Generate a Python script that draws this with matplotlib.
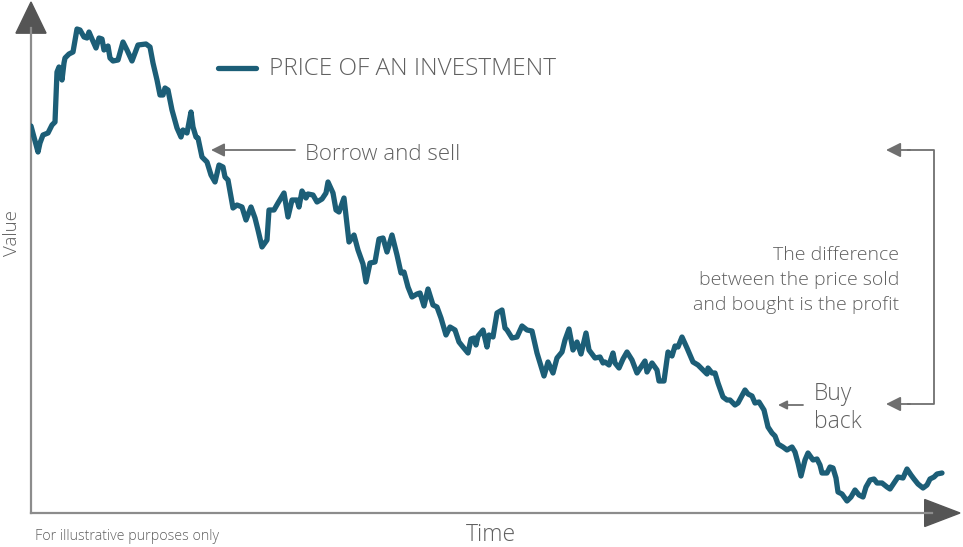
import matplotlib
matplotlib.use('Agg')
import matplotlib.pyplot as plt
from matplotlib.patches import Polygon

# price path (time step, value)
days = [0, 7, 9, 12, 17, 21, 24, 26, 28, 31, 33, 34, 38, 42, 46, 49, 53, 56, 58, 61,
        65, 68, 71, 73, 77, 79, 82, 87, 92, 96, 101, 107, 115, 119, 122, 126, 129, 132, 134, 137,
        141, 146, 150, 152, 156, 160, 162, 165, 167, 171, 176, 180, 184, 188, 192, 194, 197, 202, 206, 211,
        215, 220, 224, 227, 231, 236, 238, 243, 247, 253, 257, 261, 266, 268, 271, 275, 277, 282, 286, 291,
        295, 297, 302, 305, 308, 313, 318, 323, 327, 332, 335, 339, 344, 348, 352, 356, 361, 366, 370, 373,
        377, 381, 386, 389, 393, 397, 402, 406, 410, 415, 419, 424, 428, 432, 437, 440, 443, 445, 447, 452,
        456, 458, 462, 466, 471, 474, 476, 481, 486, 491, 496, 501, 506, 513, 517, 522, 526, 531, 534, 538,
        542, 546, 550, 555, 558, 564, 569, 572, 574, 578, 582, 584, 588, 592, 596, 601, 606, 610, 614, 616,
        621, 626, 628, 633, 637, 641, 644, 647, 651, 656, 659, 662, 667, 672, 676, 677, 681, 684, 687, 692,
        696, 699, 704, 707, 714, 717, 721, 724, 728, 733, 737, 741, 744, 747, 752, 756, 761, 764, 767, 770,
        774, 777, 782, 786, 789, 791, 796, 799, 802, 805, 807, 811, 816, 820, 824, 828, 832, 835, 839, 843,
        846, 851, 856, 859, 863, 867, 872, 876, 880, 883, 887, 892, 896, 899, 903, 906, 911]
price = [387, 361, 370, 378, 380, 388, 391, 441, 446, 433, 450, 455, 459, 461, 484, 483, 476, 475, 481, 474,
         465, 475, 474, 463, 467, 455, 452, 453, 471, 463, 452, 468, 469, 466, 450, 433, 418, 418, 425, 423,
         403, 385, 376, 383, 380, 401, 386, 376, 375, 356, 351, 338, 331, 348, 346, 336, 333, 305, 308, 306,
         293, 306, 295, 283, 266, 273, 303, 303, 310, 320, 296, 313, 313, 306, 322, 315, 319, 318, 311, 314,
         320, 331, 320, 303, 301, 315, 271, 278, 263, 249, 231, 250, 251, 274, 275, 261, 278, 258, 240, 241,
         226, 216, 219, 220, 207, 224, 208, 206, 195, 178, 186, 183, 171, 166, 160, 174, 175, 168, 177, 183,
         166, 178, 176, 200, 203, 185, 183, 175, 176, 187, 183, 182, 160, 137, 151, 140, 155, 161, 173, 184,
         163, 171, 159, 180, 163, 155, 156, 150, 151, 148, 160, 150, 145, 154, 161, 153, 140, 146, 152, 141,
         150, 143, 132, 132, 161, 157, 167, 166, 176, 165, 158, 151, 148, 143, 139, 145, 140, 140, 130, 116,
         113, 113, 108, 110, 123, 119, 117, 110, 111, 103, 86, 80, 77, 69, 66, 63, 66, 61, 50, 37,
         53, 60, 53, 54, 48, 40, 40, 46, 45, 35, 21, 19, 12, 16, 23, 18, 16, 26, 33, 34,
         30, 30, 26, 24, 30, 36, 35, 44, 38, 34, 29, 25, 28, 34, 36, 39, 40]

W, H = 963, 547
LINE = '#1c5e77'
TXT = '#606060'
AXC = '#8c8c8c'
HEAD = '#555555'
FONT = ['Open Sans', 'DejaVu Sans']


def fp(x, y):
    # pixel position (from top-left) -> figure fraction
    return x / W, 1 - y / H


fig = plt.figure(figsize=(W / 100, H / 100), dpi=100)
ax = fig.add_axes([31 / W, 34 / H, 929 / W, 511 / H])
ax.set_xlim(0, 929)
ax.set_ylim(0, 511)
ax.axis('off')

ax.plot(days, price, color=LINE, lw=3.8, solid_joinstyle='round', solid_capstyle='round', zorder=3)

# axes with arrow heads
ax.plot([0, 0], [0, 0.95], color=AXC, lw=1.6, transform=ax.transAxes, clip_on=False)
ax.plot([0, 0.97], [0, 0], color=AXC, lw=1.6, transform=ax.transAxes, clip_on=False)
ax.add_patch(Polygon([(-0.0162, 0.939), (0.0162, 0.939), (0, 1.0)], closed=True,
                     color=HEAD, transform=ax.transAxes, clip_on=False))
ax.add_patch(Polygon([(0.962, -0.0264), (0.962, 0.0264), (1.0, 0)], closed=True,
                     color=HEAD, transform=ax.transAxes, clip_on=False))

# legend
fig.add_artist(plt.Line2D([218 / W, 256 / W], [1 - 68 / H, 1 - 68 / H], color=LINE, lw=3.8,
                          solid_capstyle='round'))
fig.text(*fp(269, 69), 'PRICE OF AN INVESTMENT', color=TXT, fontsize=17.5, va='center',
         family=FONT, fontweight='light')


def arrow(x0, y0, x1, y1, scale):
    ax.annotate('', xy=fp(x1, y1), xytext=fp(x0, y0), xycoords='figure fraction',
                textcoords='figure fraction',
                arrowprops=dict(arrowstyle='-|>', color='#6f6f6f', lw=1.3, mutation_scale=scale,
                                shrinkA=0, shrinkB=0))


arrow(295, 150, 211, 150, 20)
fig.text(*fp(305, 154), 'Borrow and sell', color=TXT, fontsize=16, va='center',
         family=FONT, fontweight='light')

arrow(803, 405, 778, 405, 13)
fig.text(*fp(814, 394), 'Buy', color=TXT, fontsize=16.5, va='center', family=FONT, fontweight='light')
fig.text(*fp(814, 422), 'back', color=TXT, fontsize=16.5, va='center', family=FONT, fontweight='light')

# bracket
bx = [fp(908, 150), fp(934, 150), fp(934, 404), fp(908, 404)]
fig.add_artist(plt.Line2D([p[0] for p in bx], [p[1] for p in bx], color='#6f6f6f', lw=1.3))
arrow(910, 150, 886, 150, 22)
arrow(910, 404, 886, 404, 22)

for i, line in enumerate(['The difference', 'between the price sold', 'and bought is the profit']):
    fig.text(*fp(899, 255 + 25 * i), line, color=TXT, fontsize=14, va='center', ha='right',
             family=FONT, fontweight='light')

fig.text(*fp(12, 233), 'Value', color=TXT, fontsize=13.5, rotation=90, va='center', ha='center',
         family=FONT, fontweight='light')
fig.text(*fp(491, 535), 'Time', color=TXT, fontsize=16.5, va='center', ha='center',
         family=FONT, fontweight='light')
fig.text(*fp(35, 537), 'For illustrative purposes only', color=TXT, fontsize=10.3, va='center',
         family=FONT, fontweight='light')

fig.savefig('out.png', dpi=100)
